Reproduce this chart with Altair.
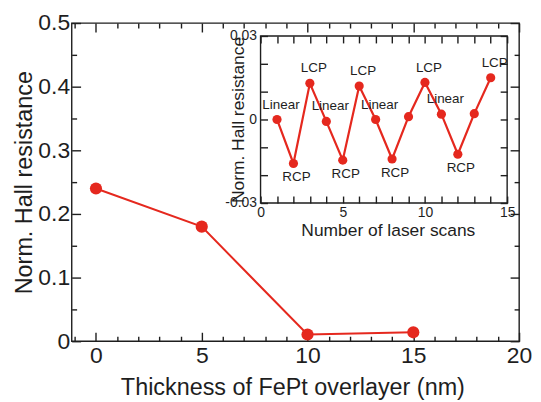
import altair as alt
import pandas as pd

# ---- data ----
thickness = [0, 5, 10, 15]
hall = [0.24, 0.18, 0.0105, 0.014]

scans = list(range(1, 15))
inset_vals = [0.0, -0.0158, 0.013, -0.0007, -0.0146, 0.012, 0.0, -0.0142,
              0.001, 0.0133, 0.0019, -0.0125, 0.0021, 0.015]
inset_labels = ["Linear", "RCP", "LCP", "Linear", "RCP", "LCP", "Linear", "RCP",
                "", "LCP", "Linear", "RCP", "", "LCP"]
label_pos = ["above", "below", "above", "above", "below", "above", "above", "below",
             "", "above", "above", "below", "", "above"]

main_x_major = [0, 5, 10, 15, 20]
main_x_minor = [v for v in range(-1, 20) if v % 5 != 0]
main_y_major = [0, 0.1, 0.2, 0.3, 0.4, 0.5]
main_y_minor = [0.05, 0.15, 0.25, 0.35, 0.45]
inset_x_labels = [0, 5, 10, 15]
inset_x_ticks = list(range(0, 16))
inset_y_labels = [-0.03, 0, 0.03]
inset_y_ticks = [-0.03, -0.02, -0.01, 0, 0.01, 0.02, 0.03]

main_df = pd.DataFrame({"t": thickness, "h": hall})
inset_df = pd.DataFrame({"scan": scans, "val": inset_vals, "lab": inset_labels, "pos": label_pos})
frame_df = pd.DataFrame({"scan": [0], "scan2": [15], "val": [-0.03], "val2": [0.03]})

RED = "#e5281e"
INK = "#1e1e1e"
FONT = "Liberation Sans"
W, H = 450, 320

# main scales
mx = alt.Scale(domain=[-1.15, 20], nice=False, zero=False)
my = alt.Scale(domain=[0, 0.5], nice=False, zero=False)
# inset scales (pixel ranges inside the main plot area)
ix = alt.Scale(domain=[0, 15], nice=False, zero=False, range=[190, 438])
iy = alt.Scale(domain=[-0.03, 0.03], nice=False, zero=False, range=[181, 13])


def tick_axis(orient, values, size, offset, z=0):
    return alt.Axis(orient=orient, values=values, labels=False, domain=False,
                    ticks=True, tickSize=size, offset=offset, tickColor=INK,
                    tickWidth=1.4, grid=False, zindex=z)


# ---------- main chart ----------
main_xaxis = alt.Axis(orient="bottom", values=main_x_major, ticks=False, tickSize=0,
                      domain=False, labelPadding=3, labelFontSize=23, labelFlush=False,
                      labelOverlap=False, format="d",
                      title="Thickness of FePt overlayer (nm)", titleFontSize=23.5,
                      titleX=222, titleY=47, titleBaseline="middle", titleAlign="center")
main_yaxis = alt.Axis(orient="left", values=main_y_major, ticks=False, tickSize=0,
                      domain=False, labelPadding=2, labelFontSize=23, labelOverlap=False,
                      format=".1~f", labelBaseline="middle",
                      title="Norm. Hall resistance", titleFontSize=23.5,
                      titleX=-47, titleY=H / 2, titleAngle=270,
                      titleBaseline="middle", titleAlign="center")

main_base = alt.Chart(main_df)
main_line = main_base.mark_line(color=RED, strokeWidth=2).encode(
    x=alt.X("t:Q", scale=mx, axis=main_xaxis),
    y=alt.Y("h:Q", scale=my, axis=main_yaxis))
main_pts = main_base.mark_circle(color=RED, size=150, opacity=1).encode(
    x=alt.X("t:Q", scale=mx, axis=main_xaxis),
    y=alt.Y("h:Q", scale=my, axis=main_yaxis))
main_layer = alt.layer(main_line, main_pts)


def hidden_main(xa, ya):
    return main_base.mark_point(opacity=0).encode(
        x=alt.X("t:Q", scale=mx, axis=xa, title=None),
        y=alt.Y("h:Q", scale=my, axis=ya, title=None))


m_maj_bl = hidden_main(tick_axis("bottom", main_x_major, 9, -9), tick_axis("left", main_y_major, 9, -9))
m_min_bl = hidden_main(tick_axis("bottom", main_x_minor, 5, -5), tick_axis("left", main_y_minor, 5, -5))
m_maj_tr = hidden_main(tick_axis("top", main_x_major, 9, -9), tick_axis("right", main_y_major, 9, -9))
m_min_tr = hidden_main(tick_axis("top", main_x_minor, 5, -5), tick_axis("right", main_y_minor, 5, -5))

# ---------- inset ----------
in_xaxis = alt.Axis(orient="bottom", values=inset_x_labels, ticks=False, tickSize=0,
                    domain=False, offset=-139, labelPadding=3, labelFontSize=14,
                    labelFlush=False, labelOverlap=False, format="d", zindex=1,
                    title="Number of laser scans", titleFontSize=17.5,
                    titleX=318, titleY=28, titleBaseline="middle", titleAlign="center")
in_yaxis = alt.Axis(orient="left", values=inset_y_labels, ticks=False, tickSize=0,
                    domain=False, offset=-190, labelPadding=4, labelFontSize=14,
                    labelOverlap=False, labelBaseline="middle", zindex=1,
                    labelExpr="replace(format(datum.value, '.2~f'), '\u2212', '-')",
                    title="Norm. Hall resistance", titleFontSize=17.5,
                    titleX=-22, titleY=97, titleAngle=270,
                    titleBaseline="middle", titleAlign="center")

frame = alt.Chart(frame_df).mark_rect(fill="white", stroke=INK, strokeWidth=1.4).encode(
    x=alt.X("scan:Q", scale=ix, axis=in_xaxis),
    x2="scan2:Q",
    y=alt.Y("val:Q", scale=iy, axis=in_yaxis),
    y2="val2:Q")
ibase = alt.Chart(inset_df)
i_line = ibase.mark_line(color=RED, strokeWidth=2.2).encode(
    x=alt.X("scan:Q", scale=ix, axis=in_xaxis),
    y=alt.Y("val:Q", scale=iy, axis=in_yaxis))
i_pts = ibase.mark_circle(color=RED, size=85, opacity=1).encode(
    x=alt.X("scan:Q", scale=ix, axis=in_xaxis),
    y=alt.Y("val:Q", scale=iy, axis=in_yaxis))
i_above = ibase.transform_filter(alt.datum.pos == "above").mark_text(
    font=FONT, fontSize=13.5, color=INK, dx=4, dy=-15, baseline="middle").encode(
    x=alt.X("scan:Q", scale=ix, axis=in_xaxis),
    y=alt.Y("val:Q", scale=iy, axis=in_yaxis),
    text="lab:N")
i_below = ibase.transform_filter(alt.datum.pos == "below").mark_text(
    font=FONT, fontSize=13.5, color=INK, dx=3, dy=14, baseline="middle").encode(
    x=alt.X("scan:Q", scale=ix, axis=in_xaxis),
    y=alt.Y("val:Q", scale=iy, axis=in_yaxis),
    text="lab:N")
inset_layer = alt.layer(frame, i_line, i_pts, i_above, i_below)


def hidden_inset(xa, ya):
    return ibase.mark_point(opacity=0).encode(
        x=alt.X("scan:Q", scale=ix, axis=xa, title=None),
        y=alt.Y("val:Q", scale=iy, axis=ya, title=None))


i_ticks_bl = hidden_inset(tick_axis("bottom", inset_x_ticks, 7, -146, 1),
                          tick_axis("left", inset_y_ticks, 7, -197, 1))
i_ticks_tr = hidden_inset(tick_axis("top", inset_x_ticks, 7, -20, 1),
                          tick_axis("right", inset_y_ticks, 7, -19, 1))

chart = alt.layer(
    main_layer, m_maj_bl, m_min_bl, m_maj_tr, m_min_tr,
    inset_layer, i_ticks_bl, i_ticks_tr
).resolve_scale(x="independent", y="independent").properties(
    width=W, height=H,
    autosize=alt.AutoSizeParams(type="none"),
    padding={"left": 64, "top": 14, "right": 14, "bottom": 58},
    background="white",
).configure_view(
    stroke=INK, strokeWidth=1.4
).configure_axis(
    grid=False, labelFont=FONT, titleFont=FONT, labelColor=INK, titleColor=INK,
    titleFontWeight="normal"
)

chart.save("out.html", embed_options={"renderer": "svg", "actions": False})
